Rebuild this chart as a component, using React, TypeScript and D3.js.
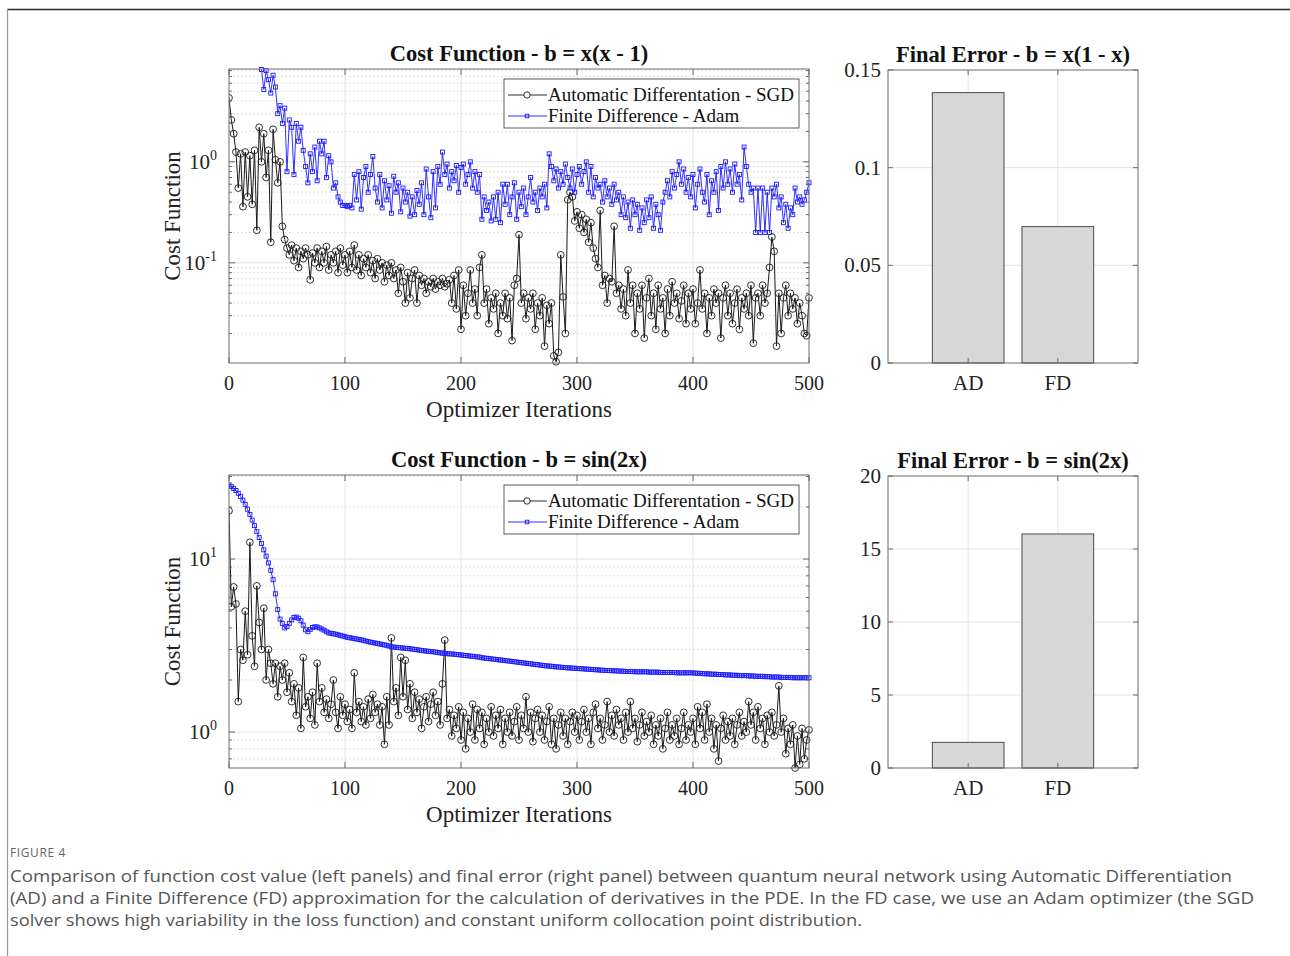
import React from 'react';
import * as d3 from 'd3';

// iterations are sampled every 2 optimizer steps
const ITER_STEP = 2;
const xTicks = [0, 100, 200, 300, 400, 500];

// top left: b = x(x - 1)
const topSgd = [
  4.3, 2.6, 1.9, 1.25, 0.55, 1.2, 0.36, 1.25, 0.45, 1.15,
  0.38, 1.3, 0.21, 2.2, 1.0, 1.9, 0.7, 1.3, 0.16, 2.1,
  1.05, 0.62, 1.0, 0.23, 0.17, 0.14, 0.12, 0.15, 0.105, 0.14,
  0.09, 0.13, 0.11, 0.14, 0.12, 0.068, 0.125, 0.1, 0.14, 0.09,
  0.13, 0.1, 0.145, 0.085, 0.12, 0.1, 0.13, 0.08, 0.14, 0.095,
  0.12, 0.08, 0.13, 0.09, 0.15, 0.085, 0.12, 0.075, 0.11, 0.09,
  0.12, 0.08, 0.105, 0.07, 0.11, 0.085, 0.1, 0.065, 0.095, 0.075,
  0.1, 0.07, 0.085, 0.05, 0.09, 0.065, 0.04, 0.08, 0.045, 0.07,
  0.085, 0.04, 0.075, 0.06, 0.07, 0.05, 0.065, 0.058, 0.07, 0.055,
  0.065, 0.06, 0.07, 0.058, 0.062, 0.068, 0.04, 0.075, 0.035, 0.085,
  0.022, 0.06, 0.03, 0.05, 0.085, 0.04, 0.055, 0.03, 0.09, 0.12,
  0.04, 0.055, 0.025, 0.045, 0.035, 0.05, 0.02, 0.04, 0.03, 0.05,
  0.028, 0.045, 0.017, 0.06, 0.07, 0.19, 0.04, 0.05, 0.028, 0.045,
  0.035, 0.05, 0.022, 0.04, 0.03, 0.045, 0.015, 0.038, 0.025, 0.04,
  0.012, 0.0105, 0.013, 0.12, 0.046, 0.02, 0.42, 0.5, 0.45, 0.26,
  0.32, 0.22, 0.3, 0.2, 0.27, 0.16, 0.25, 0.14, 0.11, 0.09,
  0.33, 0.06, 0.075, 0.04, 0.07, 0.065, 0.23, 0.05, 0.06, 0.035,
  0.055, 0.03, 0.085, 0.04, 0.06, 0.02, 0.05, 0.035, 0.06, 0.018,
  0.045, 0.07, 0.03, 0.05, 0.022, 0.06, 0.035, 0.045, 0.02, 0.055,
  0.03, 0.065, 0.04, 0.05, 0.028, 0.042, 0.06, 0.025, 0.05, 0.035,
  0.055, 0.025, 0.04, 0.085, 0.035, 0.05, 0.02, 0.045, 0.03, 0.055,
  0.04, 0.05, 0.018, 0.045, 0.06, 0.03, 0.05, 0.025, 0.04, 0.055,
  0.022, 0.045, 0.035, 0.05, 0.03, 0.06, 0.016, 0.045, 0.05, 0.03,
  0.06, 0.04, 0.05, 0.09, 0.18, 0.13, 0.015, 0.05, 0.02, 0.045,
  0.06, 0.03, 0.05, 0.035, 0.045, 0.025, 0.04, 0.03, 0.02, 0.019,
  0.045,
];

// first visible Adam point (earlier ones are above the axes)
const topAdamStart = 28;
const topAdam = [
  8.2, 5.2, 8.0, 6.5, 4.8, 7.2, 5.5, 3.0, 3.6, 2.4,
  3.4, 0.8, 2.6, 2.2, 0.75, 2.4, 1.6, 2.2, 1.3, 0.9,
  0.62, 1.2, 0.8, 1.4, 0.65, 1.6, 1.2, 1.6, 0.7, 1.15,
  1.0, 0.55, 0.62, 0.45, 0.4, 0.37, 0.37, 0.36, 0.37, 0.35,
  0.75, 0.42, 0.8, 0.34, 0.7, 0.9, 0.5, 0.75, 1.13, 0.55,
  0.4, 0.75, 0.35, 0.65, 0.42, 0.58, 0.31, 0.72, 0.5, 0.62,
  0.32, 0.55, 0.4, 0.5, 0.29, 0.45, 0.3, 0.52, 0.38, 0.62,
  0.3, 0.85, 0.45, 0.28, 0.8, 0.35, 0.9, 0.6, 1.25, 0.75,
  0.95, 0.55, 0.8, 0.65, 0.92, 0.5, 0.88, 0.95, 0.6, 0.75,
  1.0, 0.55, 0.8, 0.5, 0.75, 0.27, 0.45, 0.33, 0.4, 0.26,
  0.45, 0.27, 0.5, 0.25, 0.6, 0.38, 0.6, 0.3, 0.45, 0.62,
  0.27, 0.5, 0.36, 0.55, 0.3, 0.45, 0.7, 0.4, 0.5, 0.33,
  0.55, 0.45, 0.6, 0.35, 1.2, 0.9, 0.65, 0.85, 0.55, 0.8,
  0.6, 0.95, 0.7, 0.55, 0.85, 0.5, 0.75, 0.9, 0.6, 0.8,
  1.0, 0.5, 0.9, 0.45, 0.7, 0.55, 0.6, 0.4, 0.65, 0.45,
  0.55, 0.38, 0.6, 0.42, 0.5, 0.3, 0.45, 0.28, 0.4, 0.22,
  0.42, 0.3, 0.38, 0.21, 0.35, 0.25, 0.42, 0.28, 0.45, 0.22,
  0.38, 0.3, 0.21, 0.4, 0.5, 0.65, 0.45, 0.8, 0.55, 0.75,
  1.0, 0.6, 0.85, 0.5, 0.7, 0.45, 0.75, 0.35, 0.6, 0.85,
  0.5, 0.4, 0.75, 0.3, 0.65, 0.5, 0.8, 0.33, 0.9, 0.55,
  1.0, 0.6, 0.85, 0.5, 0.95, 0.6, 0.75, 0.42, 1.4, 0.9,
  0.6, 0.5, 0.55, 0.2, 0.55, 0.2, 0.55, 0.2, 0.5, 0.2,
  0.55, 0.45, 0.6, 0.35, 0.45, 0.25, 0.38, 0.22, 0.35, 0.3,
  0.55, 0.4, 0.45, 0.38, 0.42, 0.5, 0.62,
];

// bottom left: b = sin(2x)
const botSgd = [
  19, 5.3, 6.9, 5.5, 1.5, 3.0, 2.6, 5.0, 2.8, 12.5,
  3.6, 2.4, 7.0, 4.3, 3.0, 5.2, 2.0, 3.0, 2.5, 1.9,
  2.5, 1.6, 2.4, 2.0, 2.5, 1.7, 2.2, 1.5, 1.9, 1.25,
  1.8, 1.05, 2.7, 1.4, 1.6, 1.2, 1.7, 1.1, 2.5, 1.5,
  1.8, 1.3, 1.55, 1.2, 1.45, 2.0, 1.3, 1.05, 1.6, 1.25,
  1.45, 1.15, 1.35, 1.05, 2.2, 1.3, 1.5, 1.15, 1.4, 1.1,
  1.55, 1.2, 1.65, 1.3, 1.45, 1.1, 1.4, 0.85, 1.6, 1.1,
  3.5, 1.5, 1.8, 1.25, 2.7, 1.6, 2.6, 1.35, 1.9, 1.2,
  1.7, 1.3, 1.55, 1.05, 1.4, 1.6, 1.15, 1.45, 1.7, 1.25,
  1.5, 1.1, 1.9, 3.4, 1.2, 1.35, 0.95, 1.25, 1.05, 1.4,
  0.9, 1.3, 0.8, 1.2, 1.0, 1.45, 0.9, 1.35, 1.05, 1.3,
  0.85, 1.2, 1.0, 1.4, 0.95, 1.25, 1.05, 1.35, 0.85, 1.2,
  1.0, 1.3, 0.95, 1.15, 1.4, 0.9, 1.25, 1.05, 1.6, 1.0,
  1.3, 0.88, 1.2, 1.35, 1.0, 1.25, 0.9, 1.15, 1.4, 0.85,
  1.2, 0.8, 1.1, 1.3, 0.95, 1.2, 0.85, 1.15, 1.3, 1.0,
  1.25, 0.9, 1.15, 1.35, 1.0, 1.2, 0.85, 1.3, 1.45, 1.05,
  1.2, 0.9, 1.1, 1.5, 1.0, 1.25, 0.95, 1.35, 1.1, 1.2,
  0.9, 1.3, 1.0, 1.5, 1.05, 1.2, 0.88, 1.1, 1.3, 0.95,
  1.15, 1.0, 1.25, 0.85, 1.1, 0.95, 1.2, 0.8, 1.05, 1.3,
  0.9, 1.1, 0.95, 1.2, 0.85, 1.05, 1.3, 0.9, 1.1, 1.0,
  1.2, 0.85, 1.4, 1.05, 1.3, 0.9, 1.45, 1.0, 1.2, 0.8,
  1.1, 0.68, 1.05, 1.25, 0.9, 1.15, 0.95, 1.2, 0.85, 1.1,
  1.3, 0.95, 1.15, 1.0, 1.5, 1.1, 1.3, 0.9, 1.4, 1.05,
  1.2, 0.85, 1.25, 1.0, 1.3, 0.95, 1.1, 1.85, 1.0, 1.2,
  0.75, 1.05, 0.85, 1.1, 0.62, 0.95, 0.65, 1.05, 0.7, 0.9,
  1.03,
];

const botAdam = [
  26.8, 26.3, 25.6, 24.9, 24.0, 23.0, 21.9, 20.7, 19.4, 18.1,
  16.8, 15.6, 14.4, 13.3, 12.3, 11.3, 10.4, 9.5, 8.6, 7.6,
  6.3, 5.1, 4.5, 4.25, 4.0, 4.07, 4.25, 4.45, 4.6, 4.62,
  4.55, 4.4, 4.15, 3.9, 3.8, 3.92, 4.02, 4.06, 4.05, 4.0,
  3.94, 3.88, 3.8, 3.74, 3.72, 3.7, 3.68, 3.65, 3.62, 3.59,
  3.56, 3.53, 3.51, 3.49, 3.47, 3.45, 3.43, 3.41, 3.39, 3.36, 3.33,
  3.31, 3.29, 3.27, 3.25, 3.23, 3.21, 3.19, 3.17, 3.14, 3.11,
  3.10, 3.09, 3.08, 3.07, 3.06, 3.05, 3.04, 3.03, 3.02, 3.00,
  2.99, 2.98, 2.96, 2.95, 2.94, 2.93, 2.92, 2.91, 2.90, 2.88,
  2.87, 2.86, 2.85, 2.84, 2.83, 2.83, 2.82, 2.81, 2.80, 2.79,
  2.78, 2.77, 2.76, 2.75, 2.74, 2.73, 2.72, 2.71, 2.69, 2.68,
  2.67, 2.66, 2.65, 2.64, 2.63, 2.62, 2.61, 2.60, 2.59, 2.58,
  2.57, 2.56, 2.55, 2.54, 2.53, 2.52, 2.51, 2.50, 2.49, 2.48,
  2.47, 2.46, 2.45, 2.44, 2.43, 2.42, 2.41, 2.41, 2.40, 2.39,
  2.38, 2.38, 2.37, 2.36, 2.36, 2.35, 2.35, 2.34, 2.34, 2.33,
  2.33, 2.32, 2.32, 2.31, 2.31, 2.30, 2.30, 2.29, 2.29, 2.28,
  2.28, 2.27, 2.27, 2.27, 2.26, 2.26, 2.26, 2.25, 2.25, 2.25,
  2.24, 2.24, 2.24, 2.24, 2.23, 2.23, 2.23, 2.23, 2.23, 2.23,
  2.22, 2.22, 2.22, 2.22, 2.22, 2.21, 2.21, 2.21, 2.21, 2.21,
  2.21, 2.21, 2.20, 2.20, 2.20, 2.20, 2.20, 2.20, 2.20, 2.20,
  2.19, 2.19, 2.18, 2.18, 2.17, 2.17, 2.17, 2.16, 2.16, 2.16,
  2.15, 2.15, 2.15, 2.14, 2.14, 2.14, 2.13, 2.13, 2.13, 2.12,
  2.12, 2.12, 2.12, 2.11, 2.11, 2.11, 2.10, 2.10, 2.10, 2.10,
  2.09, 2.09, 2.09, 2.08, 2.08, 2.08, 2.08, 2.07, 2.07, 2.07,
  2.07, 2.07, 2.06, 2.06, 2.06, 2.06, 2.06, 2.06, 2.06, 2.06,
];

// right panels: final error
const barCats = ['AD', 'FD'];
const barTopVals = [0.1384, 0.0698];
const barBotVals = [1.76, 16.03];
const barTopTicks = [0, 0.05, 0.1, 0.15];
const barBotTicks = [0, 5, 10, 15, 20];

const legendLabels = ['Automatic Differentation - SGD', 'Finite Difference - Adam'];

const captionLines = [
  'Comparison of function cost value (left panels) and final error (right panel) between quantum neural network using Automatic Differentiation',
  '(AD) and a Finite Difference (FD) approximation for the calculation of derivatives in the PDE. In the FD case, we use an Adam optimizer (the SGD',
  'solver shows high variability in the loss function) and constant uniform collocation point distribution.',
];

const SERIF = '"Liberation Serif", "Times New Roman", Times, serif';
const AXIS = '#6b6b6b';
const GRID = '#e4e4e4';
const MINOR = '#cfcfcf';
const BLUE = '#1a1aff';
const BLACK = '#1a1a1a';

const Square = ({ cx, cy, s, color }) => (
  <rect x={cx - s / 2} y={cy - s / 2} width={s} height={s} fill="none" stroke={color} strokeWidth={0.9} />
);

function LogPanel({ id, top, bottom, domain, sgd, adam, adamStart, title }) {
  const left = 229;
  const right = 809;
  const x = d3.scaleLinear().domain([0, 500]).range([left, right]);
  const y = d3.scaleLog().domain(domain).range([bottom, top]);

  const majors = [];
  const minors = [];
  const k0 = Math.floor(Math.log10(domain[0]));
  const k1 = Math.floor(Math.log10(domain[1]));
  for (let k = k0; k <= k1; k++) {
    for (let m = 1; m <= 9; m++) {
      const v = m * Math.pow(10, k);
      if (v >= domain[0] && v <= domain[1]) {
        if (m === 1) majors.push({ v, k });
        else minors.push(v);
      }
    }
  }

  const sgdPts = sgd.map((v, i) => [i * ITER_STEP, v]);
  const adamPts = adam.map((v, i) => [adamStart + i * ITER_STEP, v]);
  const line = d3.line().x(d => x(d[0])).y(d => y(d[1]));

  const legX = right - 305;
  const legY = top + 10;

  return (
    <g>
      <defs>
        <clipPath id={id}>
          <rect x={left} y={top - 4} width={right - left + 4} height={bottom - top + 8} />
        </clipPath>
      </defs>

      {/* grid */}
      {minors.map(v => (
        <line key={'mg' + v} x1={left} x2={right} y1={y(v)} y2={y(v)} stroke={MINOR} strokeWidth={0.8} strokeDasharray="1.5,2.5" />
      ))}
      {majors.map(d => (
        <line key={'Mg' + d.v} x1={left} x2={right} y1={y(d.v)} y2={y(d.v)} stroke={GRID} strokeWidth={1} />
      ))}
      {xTicks.slice(1, -1).map(t => (
        <line key={'xg' + t} x1={x(t)} x2={x(t)} y1={top} y2={bottom} stroke={GRID} strokeWidth={1} />
      ))}

      {/* series */}
      <g clipPath={`url(#${id})`}>
        <path d={line(sgdPts)} fill="none" stroke={BLACK} strokeWidth={1} />
        {sgdPts.map((d, i) => (
          <circle key={'c' + i} cx={x(d[0])} cy={y(d[1])} r={3.4} fill="none" stroke={BLACK} strokeWidth={0.9} />
        ))}
        <path d={line(adamPts)} fill="none" stroke={BLUE} strokeWidth={0.9} />
        {adamPts.map((d, i) => (
          <Square key={'s' + i} cx={x(d[0])} cy={y(d[1])} s={4} color={BLUE} />
        ))}
      </g>

      {/* box and ticks */}
      <rect x={left} y={top} width={right - left} height={bottom - top} fill="none" stroke={AXIS} strokeWidth={1} />
      {xTicks.map(t => (
        <g key={'xt' + t}>
          <line x1={x(t)} x2={x(t)} y1={bottom} y2={bottom - 6} stroke={AXIS} />
          <line x1={x(t)} x2={x(t)} y1={top} y2={top + 6} stroke={AXIS} />
          <text x={x(t)} y={bottom + 27} textAnchor="middle" fontSize={20} fill="#222">{t}</text>
        </g>
      ))}
      {majors.map(d => (
        <g key={'yt' + d.v}>
          <line x1={left} x2={left + 6} y1={y(d.v)} y2={y(d.v)} stroke={AXIS} />
          <line x1={right} x2={right - 6} y1={y(d.v)} y2={y(d.v)} stroke={AXIS} />
          <text x={left - 12} y={y(d.v) + 7} textAnchor="end" fontSize={21} fill="#222">
            10<tspan dy={-9} fontSize={14}>{d.k}</tspan>
          </text>
        </g>
      ))}
      {minors.map(v => (
        <g key={'ym' + v}>
          <line x1={left} x2={left + 3} y1={y(v)} y2={y(v)} stroke={AXIS} />
          <line x1={right} x2={right - 3} y1={y(v)} y2={y(v)} stroke={AXIS} />
        </g>
      ))}

      {/* labels */}
      <text x={(left + right) / 2} y={top - 8} textAnchor="middle" fontSize={22.5} fontWeight="bold" fill="#111">{title}</text>
      <text x={(left + right) / 2} y={bottom + 54} textAnchor="middle" fontSize={23} fill="#222">Optimizer Iterations</text>
      <text transform={`translate(180,${(top + bottom) / 2}) rotate(-90)`} textAnchor="middle" fontSize={23} fill="#222">Cost Function</text>

      {/* legend */}
      <rect x={legX} y={legY} width={295} height={49} fill="#fff" stroke="#333" strokeWidth={0.8} />
      {legendLabels.map((lab, i) => {
        const ly = legY + 16 + i * 21;
        const isSgd = i === 0;
        const color = isSgd ? BLACK : BLUE;
        return (
          <g key={lab}>
            <line x1={legX + 4} x2={legX + 43} y1={ly} y2={ly} stroke={color} strokeWidth={0.9} />
            {isSgd ? (
              <circle cx={legX + 23} cy={ly} r={3.2} fill="#fff" stroke={color} strokeWidth={0.9} />
            ) : (
              <Square cx={legX + 23} cy={ly} s={3.6} color={color} />
            )}
            <text x={legX + 44} y={ly + 6} fontSize={19} fill="#111">{lab}</text>
          </g>
        );
      })}
    </g>
  );
}

function BarPanel({ top, bottom, vals, ticks, title }) {
  const left = 888;
  const right = 1138;
  const x = d3.scaleLinear().domain([0.106, 2.894]).range([left, right]);
  const y = d3.scaleLinear().domain([0, ticks[ticks.length - 1]]).range([bottom, top]);
  const bw = 0.8;

  return (
    <g>
      {ticks.slice(1, -1).map(t => (
        <line key={'g' + t} x1={left} x2={right} y1={y(t)} y2={y(t)} stroke={GRID} />
      ))}
      {barCats.map((c, i) => (
        <line key={'vg' + c} x1={x(i + 1)} x2={x(i + 1)} y1={top} y2={bottom} stroke={GRID} />
      ))}
      {vals.map((v, i) => (
        <rect key={'b' + i} x={x(i + 1 - bw / 2)} y={y(v)} width={x(i + 1 + bw / 2) - x(i + 1 - bw / 2)} height={y(0) - y(v)}
          fill="#d7d7d7" stroke="#3a3a3a" strokeWidth={0.9} />
      ))}
      <rect x={left} y={top} width={right - left} height={bottom - top} fill="none" stroke={AXIS} strokeWidth={1} />
      {ticks.map(t => (
        <g key={'t' + t}>
          <line x1={left} x2={left + 5} y1={y(t)} y2={y(t)} stroke={AXIS} />
          <line x1={right} x2={right - 5} y1={y(t)} y2={y(t)} stroke={AXIS} />
          <text x={left - 7} y={y(t) + 7} textAnchor="end" fontSize={21} fill="#222">{String(t)}</text>
        </g>
      ))}
      {barCats.map((c, i) => (
        <g key={'c' + c}>
          <line x1={x(i + 1)} x2={x(i + 1)} y1={bottom} y2={bottom - 5} stroke={AXIS} />
          <line x1={x(i + 1)} x2={x(i + 1)} y1={top} y2={top + 5} stroke={AXIS} />
          <text x={x(i + 1)} y={bottom + 27} textAnchor="middle" fontSize={21} fill="#222">{c}</text>
        </g>
      ))}
      <text x={(left + right) / 2} y={top - 8} textAnchor="middle" fontSize={22.5} fontWeight="bold" fill="#111">{title}</text>
    </g>
  );
}

export default function App() {
  return (
    <svg width={1290} height={956} style={{ position: 'absolute', left: 0, top: 0 }} fontFamily={SERIF}>
      <rect width={1290} height={956} fill="#fff" />
      <line x1={7} x2={1290} y1={9.5} y2={9.5} stroke="#2a2a2a" strokeWidth={1.6} />
      <line x1={7.5} x2={7.5} y1={9} y2={956} stroke="#9a9a9a" strokeWidth={1.2} />

      <LogPanel id="clipTop" top={69} bottom={363} domain={[0.0102, 8.3]} sgd={topSgd} adam={topAdam}
        adamStart={topAdamStart} title="Cost Function - b = x(x - 1)" />
      <BarPanel top={70} bottom={363} vals={barTopVals} ticks={barTopTicks} title="Final Error - b = x(1 - x)" />

      <LogPanel id="clipBot" top={475} bottom={768} domain={[0.62, 30.6]} sgd={botSgd} adam={botAdam}
        adamStart={0} title="Cost Function - b = sin(2x)" />
      <BarPanel top={476} bottom={768} vals={barBotVals} ticks={barBotTicks} title="Final Error - b = sin(2x)" />

      <g fontFamily='"Liberation Sans Narrow", "Open Sans", "Noto Sans", sans-serif' fill="#555">
        <text x={10} y={857} fontSize={12} letterSpacing={0.6} fill="#666">FIGURE 4</text>
        {captionLines.map((t, i) => (
          <text key={i} x={10} y={882 + i * 22} fontSize={16.5}
            textLength={[1222, 1244, 852][i]} lengthAdjust="spacingAndGlyphs">{t}</text>
        ))}
      </g>
    </svg>
  );
}
